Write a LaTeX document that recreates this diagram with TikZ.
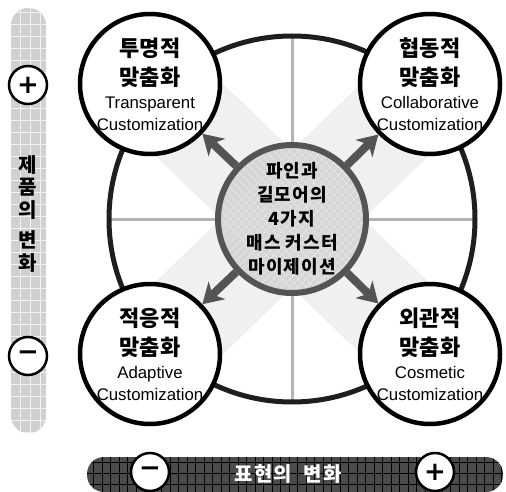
\documentclass[tikz,border=0pt]{standalone}
\usepackage{fontspec}
\newfontfamily\kor{Noto Sans CJK KR}
\newfontfamily\korwide{Noto Sans CJK KR}[LetterSpace=6]
\newfontfamily\lat{Liberation Sans}
\newfontfamily\sym{DejaVu Sans}
\usetikzlibrary{arrows.meta,positioning}

\definecolor{ringline}{HTML}{1E1E1E}
\definecolor{crossline}{HTML}{B4B4B4}
\definecolor{bandfill}{HTML}{F0F0F0}
\definecolor{corefill}{HTML}{D6D6D6}
\definecolor{corehatch}{HTML}{E6E6E6}
\definecolor{coreline}{HTML}{545454}
\definecolor{barlight}{HTML}{D0D0D0}
\definecolor{bardark}{HTML}{4B4B4B}

\newcommand\engl[1]{{\lat\mdseries\fontsize{16.8}{20}\selectfont #1}}

\tikzset{
  typebox/.style={circle,draw=black,line width=4.5pt,fill=white,minimum size=140pt,inner sep=0pt,on grid},
  typetext/.style={align=center,inner sep=0pt,font=\kor\bfseries\fontsize{22}{29}\selectfont},
  corebox/.style={circle,draw=coreline,line width=6pt,fill=corefill,minimum size=148pt,inner sep=0pt,
    path picture={
      \foreach \k in {-160,-152,...,160}{
        \draw[corehatch,line width=0.7pt] ([shift={(\k,-90)}]path picture bounding box.center) -- ++(180,180);
        \draw[corehatch,line width=0.7pt] ([shift={(\k,90)}]path picture bounding box.center) -- ++(180,-180);
      }}},
  coretext/.style={align=center,inner sep=0pt,font=\korwide\bfseries\fontsize{18}{24}\selectfont},
  signbox/.style={circle,draw=black,line width=2.5pt,fill=white,minimum size=38pt,inner sep=0pt,
    font=\sym\bfseries\fontsize{26}{26}\selectfont},
  bartext/.style={align=center,inner sep=0pt,font=\kor\bfseries\fontsize{20}{22.5}\selectfont},
  spread/.style={-{Stealth[length=20pt,width=24pt,inset=6pt]},coreline,line width=8pt},
  band/.style={bandfill,line width=99pt},
  cross/.style={crossline,line width=3pt},
}

\begin{document}
\begin{tikzpicture}[x=1pt,y=-1pt]
\useasboundingbox (0,0) rectangle (506,492);

% product axis
\fill[barlight,rounded corners=17pt] (11,8) rectangle (46,433);
\begin{scope}
  \clip[rounded corners=17pt] (11,8) rectangle (46,433);
  \draw[white!70!barlight,line width=0.6pt,xstep=10pt,ystep=12pt] (11,8) grid (46,433);
\end{scope}
\node[signbox] (prodplus) at (28,85) {+};
\node[signbox] (prodminus) at (28,356) {−};
\node[bartext] (prodtext) at (28,214) {제\\품\\의\\[8pt]변\\화};

% representation axis
\fill[bardark,rounded corners=17pt] (87,457) rectangle (503,492);
\begin{scope}
  \clip[rounded corners=17pt] (87,457) rectangle (503,492);
  \draw[black,line width=0.6pt,xstep=8.5pt,ystep=11pt] (87,457) grid (503,492);
\end{scope}
\node[signbox] (formminus) at (150,472) {−};
\node[signbox] (formplus) at (435,472) {+};
\node[bartext,font=\korwide\bfseries\fontsize{20}{22.5}\selectfont,text=white] (formtext) at (288,474) {표현의~~변화};

% wheel
\coordinate (mid) at (292,219);
\draw[band] (mid) ++(-140,-135) -- ++(280,270);
\draw[band] (mid) ++(140,-135) -- ++(-280,270);
\draw[cross] (mid) ++(0,-184) -- ++(0,368);
\draw[cross] (mid) ++(-184,0) -- ++(368,0);
\draw[ringline,line width=5pt] (mid) circle (183);

\node[corebox,label={[coretext]center:파인과\\길모어의\\4가지\\매스 커스터\\마이제이션}] (core) at (mid) {};

\node[typebox,label={[typetext]center:투명적\\맞춤화\\[-6pt]\engl{Transparent}\\[-7pt]\engl{Customization}}]
  (trans) [above left=135pt and 142pt of core] {};
\node[typebox,label={[typetext]center:협동적\\맞춤화\\[-6pt]\engl{Collaborative}\\[-7pt]\engl{Customization}}]
  (collab) [above right=135pt and 138pt of core] {};
\node[typebox,label={[typetext]center:적응적\\맞춤화\\[-6pt]\engl{Adaptive}\\[-7pt]\engl{Customization}}]
  (adapt) [below left=135pt and 142pt of core] {};
\node[typebox,label={[typetext]center:외관적\\맞춤화\\[-6pt]\engl{Cosmetic}\\[-7pt]\engl{Customization}}]
  (cosm) [below right=135pt and 138pt of core] {};

\draw[spread] (core) -- (trans);
\draw[spread] (core) -- (collab);
\draw[spread] (core) -- (adapt);
\draw[spread] (core) -- (cosm);
\end{tikzpicture}
\end{document}
